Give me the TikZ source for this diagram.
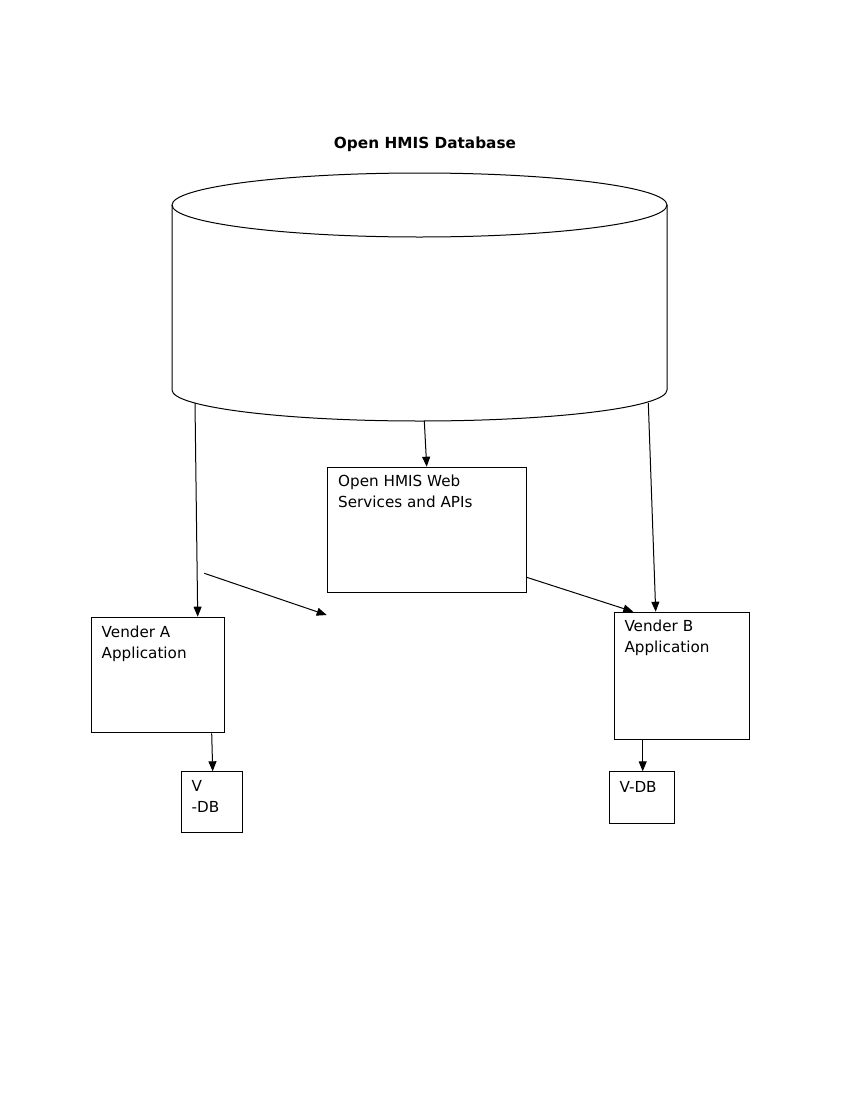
\documentclass[tikz,border=0pt]{standalone}
\usepackage{fontspec}
\setmainfont{DejaVu Sans}
\usetikzlibrary{arrows.meta,positioning}
\tikzset{
  line/.style={draw=black, line width=1pt},
  arr/.style={line, -{Triangle[length=10pt,width=8pt]}},
  box/.style={draw=black, line width=1pt, rectangle, inner sep=0pt, anchor=north west},
  txt/.style={font=\fontsize{15.2}{21}\selectfont, align=left, inner sep=0pt, anchor=north west},
  ttl/.style={font=\fontsize{15.3}{21}\selectfont\bfseries, inner sep=0pt, anchor=base},
}

\begin{document}
\begin{tikzpicture}[x=1pt,y=-1pt]
  \fill[white] (0,0) rectangle (850,1100);
  \useasboundingbox (0,0) rectangle (850,1100);

  % database cylinder
  \coordinate (dbtop) at (419.5,205);
  \coordinate (dbA) at (195,403);
  \coordinate (dbW) at (424.3,421);
  \coordinate (dbB) at (648.3,403);
  \draw[line] (172,205) -- (172,390)
    arc[start angle=180, end angle=360, x radius=247.5pt, y radius=31pt] -- (667,205);
  \draw[line] (dbtop) ellipse [x radius=247.5pt, y radius=32pt];
  \node[ttl] (title) at (425,148.3) {Open HMIS Database};

  % boxes
  \node[box, minimum width=198.4pt, minimum height=125.6pt] (api) at (327.3,466.7) {};
  \node[box, minimum width=133.6pt, minimum height=115.6pt] (appA) at (90.7,616.7) {};
  \node[box, minimum width=135pt, minimum height=127.3pt] (appB) at (614.3,611.7) {};
  \node[box, minimum width=61.6pt, minimum height=61pt] (vdbA) at (180.7,771.3) {};
  \node[box, minimum width=65.3pt, minimum height=52pt] (vdbB) at (608.7,771.3) {};

  \node[txt] (apitxt) at (338,474.3) {Open HMIS Web\\Services and APIs};
  \node[txt] (appAtxt) at (101.5,625.3) {Vender A\\Application};
  \node[txt] (appBtxt) at (624.3,619.9) {Vender B\\Application};
  \node[txt] (vdbAtxt) at (191.5,780.5) {V\\-DB};
  \node[txt] (vdbBtxt) at (619.3,781.5) {V-DB};

  % arrows
  \coordinate (freeS) at (204.3,573.3);
  \coordinate (freeE) at (326.7,615);
  \draw[arr] (dbA) -- ([xshift=107pt]appA.north west);
  \draw[arr] (dbW) -- ([xshift=99.4pt]api.north west);
  \draw[arr] (dbB) -- ([xshift=41.4pt]appB.north west);
  \draw[arr] (freeS) -- (freeE);
  \draw[arr] ([yshift=-110.6pt]api.north east) -- ([xshift=19pt]appB.north west);
  \draw[arr] ([xshift=121pt]appA.south west) -- ([xshift=32pt]vdbA.north west);
  \draw[arr] ([xshift=28.4pt]appB.south west) -- ([xshift=34pt]vdbB.north west);
\end{tikzpicture}
\end{document}
